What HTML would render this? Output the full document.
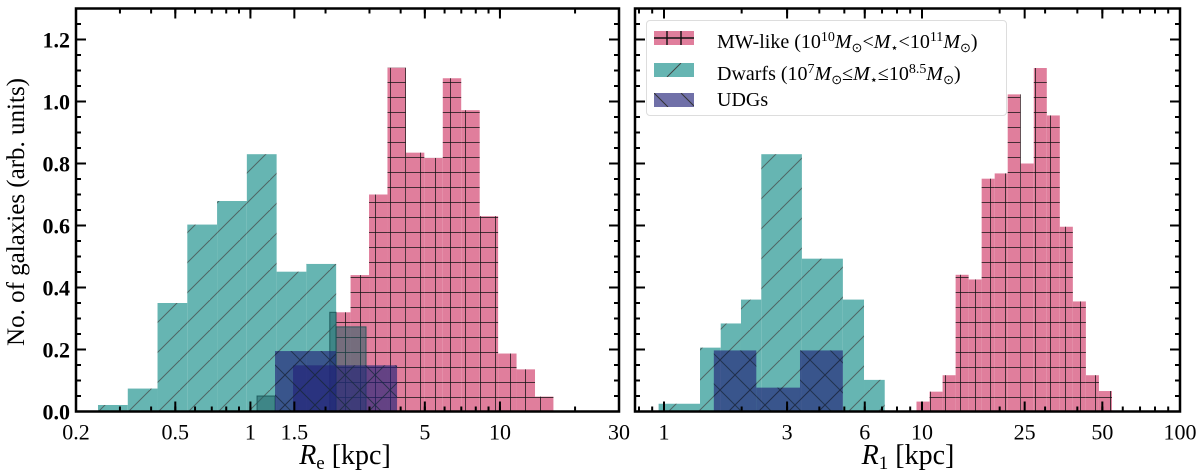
<!DOCTYPE html>
<html><head><meta charset="utf-8">
<style>
html,body{margin:0;padding:0;background:#fff;}
body{width:1200px;height:473px;position:relative;overflow:hidden;font-family:"Liberation Serif",serif;}
svg{position:absolute;left:0;top:0;}
.legend{position:absolute;left:646px;top:20px;width:361px;height:96px;border:1px solid #ddd;border-radius:4px;background:rgba(255,255,255,0.85);box-sizing:border-box;}
.li{position:absolute;left:7px;height:26px;font-size:20px;line-height:26px;white-space:nowrap;}
.sw{position:absolute;left:0;top:6px;width:40px;height:14px;}
.lt{position:absolute;left:63px;top:0;}
.lt i{font-style:italic;}
.lt sup{font-size:14px;vertical-align:7px;}
.lt sub{font-size:13px;vertical-align:-4px;}
</style></head>
<body>
<svg id="chart" width="1200" height="473" viewBox="0 0 1200 473">
<defs>
<pattern id="grid" width="15" height="15" patternUnits="userSpaceOnUse" x="0" y="412"><path d="M0 0H15M0 0V15" stroke="#111" stroke-width="1.5"/></pattern>
<pattern id="diag" width="30" height="30" patternUnits="userSpaceOnUse"><path d="M-5 35L35 -5M-35 35L35 -35M5 65L65 5" stroke="#444" stroke-opacity="0.7" stroke-width="1"/></pattern>
<pattern id="cross" width="30" height="30" patternUnits="userSpaceOnUse"><path d="M0 30L30 0M0 0L30 30" stroke="#1a2a40" stroke-opacity="0.8" stroke-width="1"/></pattern>
</defs>
</svg>
<div class="legend">
 <div class="li" style="top:4px"><svg class="sw" width="40" height="14"><rect width="40" height="14" fill="#e07e9c"/><path d="M0 7H40M13 0V14M27 0V14" stroke="#111" stroke-width="1.4"/></svg><span class="lt">MW-like (10<sup>10</sup><i>M</i><sub>⊙</sub>&lt;<i>M</i><sub>⋆</sub>&lt;10<sup>11</sup><i>M</i><sub>⊙</sub>)</span></div>
 <div class="li" style="top:36px"><svg class="sw" width="40" height="14"><rect width="40" height="14" fill="#66b5b2"/><path d="M13 14L27 0" stroke="#444" stroke-width="1"/></svg><span class="lt">Dwarfs (10<sup>7</sup><i>M</i><sub>⊙</sub>≤<i>M</i><sub>⋆</sub>≤10<sup>8.5</sup><i>M</i><sub>⊙</sub>)</span></div>
 <div class="li" style="top:66px"><svg class="sw" width="40" height="14"><rect width="40" height="14" fill="#7070a8"/><path d="M0 0L14 14M27 0L40 13" stroke="#333" stroke-width="1"/></svg><span class="lt">UDGs</span></div>
</div>
<script>
// ---- data (left panel: R_e) ----
const mwLeftEdges=[2.126,2.520,2.988,3.542,4.200,4.977,5.901,6.995,8.295,9.831,11.655,13.82,16.38];
const mwLeftVals=[0.32,0.44,0.70,1.109,0.835,0.818,1.075,0.972,0.63,0.187,0.136,0.048];
const dwLeftEdges=[0.2450,0.3225,0.4244,0.5586,0.7352,0.9676,1.2735,1.6761,2.206];
const dwLeftVals=[0.021,0.074,0.35,0.603,0.679,0.83,0.451,0.476];
const subLeftLo=[1.063,2.08,2.204];
const subLeftHi=[1.255,2.204,2.906];
const subLeftVals=[0.05,0.32,0.273];
const udgLeftLo=[1.255,1.482];
const udgLeftHi=[2.204,3.87];
const udgLeftVals=[0.195,0.149];
// ---- data (right panel: R_1) ----
const mwRightEdges=[9.52,10.70,12.02,13.50,15.16,17.03,19.13,21.49,24.14,27.12,30.46,34.21,38.43,43.17,48.50,54.48];
const mwRightVals=[0.032,0.064,0.117,0.441,0.426,0.751,0.768,1.023,0.80,1.108,0.955,0.596,0.355,0.117,0.066];
const dwRightEdges=[0.953,1.379,1.659,1.988,2.383,3.423,4.935,5.960,7.17];
const dwRightVals=[0.025,0.206,0.284,0.361,0.83,0.493,0.361,0.102];
const udgRightEdges=[1.560,2.279,3.366,4.935];
const udgRightVals=[0.197,0.077,0.197];
const yTicks=[0.0,0.2,0.4,0.6,0.8,1.0,1.2];
const leftXTicks=[0.2,0.5,1,1.5,5,10,30];
const rightXTicks=[1,3,6,10,25,50,100];

const NS="http://www.w3.org/2000/svg";
const svg=document.getElementById('chart');
const Y0=411.5, YTOP=8.5, YMAX=1.3;
function y(v){return Y0-(v/YMAX)*(Y0-YTOP);}
const P1={x0:76,x1:619,lo:0.2,hi:30};
const P2={x0:635,x1:1180,lo:0.772,hi:100};
function xf(p){return v=>p.x0+(Math.log10(v)-Math.log10(p.lo))/(Math.log10(p.hi)-Math.log10(p.lo))*(p.x1-p.x0);}
const x1=xf(P1), x2=xf(P2);
function el(tag,attrs,parent){const e=document.createElementNS(NS,tag);for(const k in attrs)e.setAttribute(k,attrs[k]);(parent||svg).appendChild(e);return e;}
function clip(id,p){const c=el('clipPath',{id:id},svg.querySelector('defs'));el('rect',{x:p.x0,y:YTOP,width:p.x1-p.x0,height:Y0-YTOP},c);}
clip('c1',P1);clip('c2',P2);
function bars(g,X,lo,hi,vals,fill,pat,name,stroke){
  for(let i=0;i<vals.length;i++){
    const a=X(lo[i]),b=X(hi[i]);
    const r=el('rect',{x:a,y:y(vals[i]),width:b-a,height:Y0-y(vals[i]),fill:fill},g);
    
    
    if(stroke){r.setAttribute('stroke',stroke);r.setAttribute('stroke-width','1');}
    if(pat){const h=el('rect',{x:a,y:y(vals[i]),width:b-a,height:Y0-y(vals[i]),fill:'url(#'+pat+')'},g);
      
      }
  }
}
function hist(g,X,edges,vals,fill,pat,name,stroke){bars(g,X,edges.slice(0,-1),edges.slice(1),vals,fill,pat,name,stroke);}
const g1=el('g',{'clip-path':'url(#c1)'});


hist(g1,x1,mwLeftEdges,mwLeftVals,'#e07e9c','grid','mw-left');
hist(g1,x1,dwLeftEdges,dwLeftVals,'#66b5b2','diag','dwarfs-left');
bars(g1,x1,subLeftLo,subLeftHi,subLeftVals,'rgba(30,95,100,0.55)',null,'dwarf-subset-left','rgba(20,80,80,0.8)');
bars(g1,x1,udgLeftLo,udgLeftHi,udgLeftVals,'rgba(34,34,120,0.65)','cross','udgs-left');
const g2=el('g',{'clip-path':'url(#c2)'});


hist(g2,x2,mwRightEdges,mwRightVals,'#e07e9c','grid','mw-right');
hist(g2,x2,dwRightEdges,dwRightVals,'#66b5b2','diag','dwarfs-right');
hist(g2,x2,udgRightEdges,udgRightVals,'rgba(34,34,120,0.65)','cross','udgs-right');

function axes(p,X,xt,showY,name){
  const g=el('g',{});
  
  
  el('rect',{x:p.x0,y:YTOP,width:p.x1-p.x0,height:Y0-YTOP,fill:'none',stroke:'#000','stroke-width':2.5},g);
  for(let k=0;k<=26;k++){const v=k*0.05;const yy=y(v);const L=(k%4===0)?10:5;
    el('line',{x1:p.x0,x2:p.x0+L,y1:yy,y2:yy,stroke:'#000','stroke-width':2},g);
    el('line',{x1:p.x1,x2:p.x1-L,y1:yy,y2:yy,stroke:'#000','stroke-width':2},g);}
  if(showY){yTicks.forEach(v=>{const t=el('text',{x:p.x0-6,y:y(v)+8,'text-anchor':'end','font-size':22,'font-weight':'bold','font-family':'Liberation Serif, serif'},g);t.textContent=v.toFixed(1);
    
    });}
  for(let d=-1;d<=2;d++)for(let m=1;m<10;m++){const v=m*Math.pow(10,d);if(v<p.lo||v>p.hi)continue;const xx=X(v);
    el('line',{x1:xx,x2:xx,y1:Y0,y2:Y0-5,stroke:'#000','stroke-width':2},g);
    el('line',{x1:xx,x2:xx,y1:YTOP,y2:YTOP+5,stroke:'#000','stroke-width':2},g);}
  xt.forEach(v=>{const xx=X(v);
    el('line',{x1:xx,x2:xx,y1:Y0,y2:Y0-10,stroke:'#000','stroke-width':2},g);
    el('line',{x1:xx,x2:xx,y1:YTOP,y2:YTOP+10,stroke:'#000','stroke-width':2},g);
    const t=el('text',{x:xx,y:Y0+28,'text-anchor':'middle','font-size':22,'font-family':'Liberation Serif, serif'},g);t.textContent=String(v);
    
    });
}
axes(P1,x1,leftXTicks,true,'left-axes');
axes(P2,x2,rightXTicks,false,'right-axes');
</script>
<svg width="1200" height="473" style="pointer-events:none">
<text x="24" y="212" transform="rotate(-90 24 212)" text-anchor="middle" font-size="25" font-family="Liberation Serif, serif">No. of galaxies (arb. units)</text>
<text x="345" y="464" text-anchor="middle" font-size="28" font-family="Liberation Serif, serif"><tspan font-style="italic">R</tspan><tspan font-size="19" dy="5">e</tspan><tspan dy="-5"> [kpc]</tspan></text>
<text x="908" y="464" text-anchor="middle" font-size="28" font-family="Liberation Serif, serif"><tspan font-style="italic">R</tspan><tspan font-size="19" dy="5">1</tspan><tspan dy="-5"> [kpc]</tspan></text>
</svg>
</body></html>
